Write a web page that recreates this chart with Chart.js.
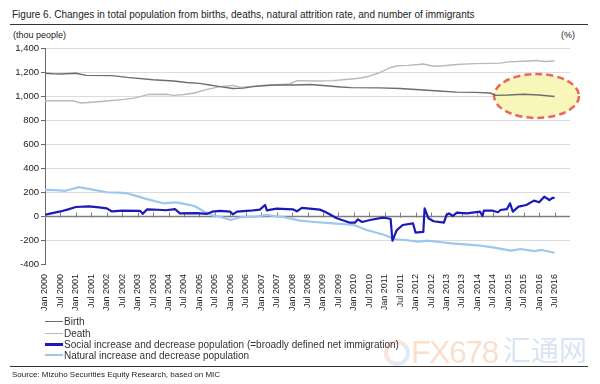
<!DOCTYPE html>
<html>
<head>
<meta charset="utf-8">
<script src="https://cdn.jsdelivr.net/npm/chart.js@4.4.1/dist/chart.umd.min.js"></script>
<style>
  html, body { margin:0; padding:0; background:#fff; }
  body { width:600px; height:384px; position:relative; overflow:hidden;
         font-family:'Liberation Sans', Arial, sans-serif; color:#222; }
  .abs { position:absolute; white-space:nowrap; }
  #chart { position:absolute; left:0; top:0; }
  .lg { position:absolute; left:45px; height:12px; font-size:10px; line-height:12px; white-space:nowrap; color:#333; }
  .lg i { display:inline-block; width:18px; vertical-align:middle; margin-right:1px; position:relative; top:-1px; }
  .wm { position:absolute; white-space:nowrap; opacity:0.5; line-height:1; }
</style>
</head>
<body>
<div class="abs" style="left:12px;top:9px;font-size:10px;">Figure 6. Changes in total population from births, deaths, natural attrition rate, and number of immigrants</div>
<div class="abs" style="left:10px;top:24px;width:578px;border-top:1px solid #333;"></div>
<div class="abs" style="left:13px;top:30px;font-size:9px;">(thou people)</div>
<div class="abs" style="left:561px;top:30px;font-size:9px;">(%)</div>
<canvas id="chart" width="600" height="384"></canvas>

<div class="wm" style="left:384px;top:340px;width:18px;height:18px;border:4px solid #f3c9b5;border-radius:50%;border-right-color:#c9d6ec;border-bottom-color:#c9d6ec;"></div>
<div class="wm" style="left:411px;top:336px;font-size:32px;letter-spacing:-1.5px;color:#f6c29a;">FX678</div>
<div class="wm" style="left:503px;top:335px;font-size:28px;color:#b3c8ea;font-family:'Noto Sans CJK SC',sans-serif;">汇通网</div>

<div class="lg" style="top:316px;"><i style="height:1.5px;background:#6e6e6e;"></i>Birth</div>
<div class="lg" style="top:328px;"><i style="height:1.5px;background:#b9b9b9;"></i>Death</div>
<div class="lg" style="top:339px;"><i style="height:3px;background:#1a1ab8;"></i>Social increase and decrease population (=broadly defined net immigration)</div>
<div class="lg" style="top:350px;"><i style="height:2px;background:#9dc7ec;"></i>Natural increase and decrease population</div>

<div class="abs" style="left:10px;top:366px;width:578px;border-top:1px solid #333;"></div>
<div class="abs" style="left:12px;top:370px;font-size:8px;">Source: Mizuho Securities Equity Research, based on MIC</div>

<script>
// ---- data (x = months since Jan 2000, y = thousand people) ----
const xTickLabels = ['Jan 2000','Jul 2000','Jan 2001','Jul 2001','Jan 2002','Jul 2002','Jan 2003','Jul 2003',
  'Jan 2004','Jul 2004','Jan 2005','Jul 2005','Jan 2006','Jul 2006','Jan 2007','Jul 2007','Jan 2008','Jul 2008',
  'Jan 2009','Jul 2009','Jan 2010','Jul 2010','Jan 2011','Jul 2011','Jan 2012','Jul 2012','Jan 2013','Jul 2013',
  'Jan 2014','Jul 2014','Jan 2015','Jul 2015','Jan 2016','Jul 2016'];
const yTickValues = [-400,-200,0,200,400,600,800,1000,1200,1400];

const birth = [[0,1190],[3,1185],[6,1183],[12,1190],[16,1172],[26,1170],[32,1155],[42,1135],[50,1125],[55,1112],
  [60,1105],[64,1092],[68,1078],[73,1063],[77,1066],[81,1078],[86,1088],[89,1092],[97,1092],[103,1096],[108,1088],
  [115,1075],[119,1070],[130,1068],[138,1063],[147,1050],[153,1042],[160,1032],[167,1030],[173,1025],[175,1005],
  [180,1008],[186,1015],[192,1008],[198,996]];

const death = [[0,960],[11,960],[14,942],[18,948],[24,958],[30,970],[34,980],[37,995],[40,1012],[47,1015],[50,1005],
  [54,1012],[58,1025],[63,1055],[68,1078],[73,1088],[76,1072],[80,1080],[83,1086],[89,1092],[95,1100],[98,1128],
  [105,1125],[112,1128],[118,1140],[122,1148],[126,1165],[130,1194],[134,1235],[137,1252],[141,1255],[145,1262],
  [147,1267],[151,1248],[155,1252],[160,1262],[167,1270],[173,1272],[177,1274],[180,1284],[186,1290],[191,1296],
  [194,1288],[198,1292]];

const social = [[0,10],[2,20],[6,38],[9,55],[12,75],[17,80],[21,72],[24,64],[26,38],[30,44],[37,42],[38,18],[39.6,55],
  [44,52],[47,48],[50.5,58],[52.4,22],[59,24],[63,18],[65,36],[68,42],[72,36],[73,14],[74.6,36],[79.6,44],[83.5,53],
  [85.5,92],[86.2,47],[90,61],[96.3,56],[97.9,39],[99.8,67],[106.8,53],[108.8,36],[113.4,-19],[118.5,-56],[120.4,-56],
  [121.6,-28],[123.2,-50],[126.3,-33],[131.3,-14],[133,-19],[134.3,-25],[135,-206],[136.7,-117],[139,-75],[143,-61],
  [144,-139],[147,-133],[147.5,64],[149,-19],[151,-44],[155,-55],[156,8],[157,22],[158.5,0],[160,28],[164,22],
  [169,36],[170,0],[170.5,44],[174,44],[176,31],[177,50],[179.5,58],[180.7,106],[181.8,36],[184,78],[187,92],
  [190,128],[192,114],[194,161],[196,133],[197.4,153],[198,147]];

const natural = [[0,217],[4,215],[8,210],[13,240],[18,222],[24,198],[29,195],[32,189],[35,170],[40,139],[46,106],
  [51,114],[55,97],[58,83],[62,36],[65.5,3],[68,-5],[72,-33],[76,-10],[82,-5],[86,10],[89,0],[93,-10],[99,-39],
  [106,-52],[112,-61],[120,-75],[125,-117],[132,-158],[136,-194],[140,-200],[145,-214],[149,-206],[158,-228],
  [168,-244],[174,-261],[181,-289],[185,-275],[190,-292],[193,-283],[198,-306]];

// highlighted region (dashed ellipse): centre [month, value], radii [months, value]
const highlightCenter = [191, 1000];
const highlightRadius = [16.5, 183];

const toPts = arr => arr.map(([x, y]) => ({x, y}));

const overlay = {
  id: 'overlay',
  beforeDatasetsDraw(chart) {
    const {ctx, scales:{x, y}} = chart;
    const cx = x.getPixelForValue(highlightCenter[0]);
    const cy = y.getPixelForValue(highlightCenter[1]);
    const rx = x.getPixelForValue(highlightCenter[0] + highlightRadius[0]) - cx;
    const ry = cy - y.getPixelForValue(highlightCenter[1] + highlightRadius[1]);
    ctx.save();
    ctx.beginPath();
    ctx.ellipse(cx, cy, rx, ry, 0, 0, Math.PI * 2);
    ctx.fillStyle = '#f8f6b8';
    ctx.fill();
    ctx.setLineDash([7, 4]);
    ctx.lineWidth = 2.5;
    ctx.strokeStyle = '#e8675c';
    ctx.stroke();
    ctx.restore();
    const y0 = Math.round(y.getPixelForValue(0)) + 0.5;
    ctx.save();
    ctx.strokeStyle = '#7f7f7f';
    ctx.lineWidth = 1.5;
    ctx.beginPath();
    ctx.moveTo(chart.chartArea.left, y0);
    ctx.lineTo(chart.chartArea.right, y0);
    ctx.stroke();
    ctx.lineWidth = 1;
    ctx.beginPath();
    xTickLabels.forEach((_, i) => {
      const px = Math.round(x.getPixelForValue(i * 6)) + 0.5;
      ctx.moveTo(px, y0 - 4);
      ctx.lineTo(px, y0 + 1);
    });
    ctx.stroke();
    ctx.restore();
  }
};

new Chart(document.getElementById('chart'), {
  type: 'line',
  data: {
    datasets: [
      { label: 'Social increase and decrease population (=broadly defined net immigration)', data: toPts(social),
        borderColor: '#1a1ab8', borderWidth: 2.2, order: 0 },
      { label: 'Natural increase and decrease population', data: toPts(natural),
        borderColor: '#9dc7ec', borderWidth: 2.2, order: 1 },
      { label: 'Birth', data: toPts(birth), borderColor: '#6e6e6e', borderWidth: 1.4, order: 2 },
      { label: 'Death', data: toPts(death), borderColor: '#b9b9b9', borderWidth: 1.4, order: 3 }
    ]
  },
  options: {
    responsive: false,
    devicePixelRatio: 1,
    animation: false,
    events: [],
    elements: { point: { radius: 0 }, line: { tension: 0, fill: false, borderJoinStyle: 'round' } },
    layout: { padding: { top: 48, left: 0, right: 30, bottom: 70 } },
    plugins: { legend: { display: false }, tooltip: { enabled: false }, title: { display: false } },
    scales: {
      x: {
        type: 'linear', min: 0, max: 204,
        afterFit: s => { s.height = 50; },
        afterBuildTicks: s => { s.ticks = xTickLabels.map((_, i) => ({ value: i * 6 })); },
        border: { display: false },
        grid: { display: false },
        ticks: {
          autoSkip: false, maxRotation: 90, minRotation: 90, padding: 2,
          color: '#222', font: { size: 9, family: "'Liberation Sans', Arial, sans-serif" },
          callback: v => xTickLabels[Math.round(v / 6)] ?? ''
        }
      },
      y: {
        min: -400, max: 1400,
        afterFit: s => { s.width = 45; },
        afterBuildTicks: s => { s.ticks = yTickValues.map(v => ({ value: v })); },
        border: { display: true, color: '#6a6a6a', width: 1 },
        grid: {
          color: c => (c.tick && (c.tick.value === 0 || c.tick.value === -400)) ? 'rgba(0,0,0,0)' : '#dcdcdc',
          tickColor: '#6a6a6a', tickLength: 4, drawTicks: true
        },
        ticks: {
          padding: 2, color: '#222', font: { size: 9.5, family: "'Liberation Sans', Arial, sans-serif" },
          callback: v => v.toLocaleString('en-US')
        }
      }
    }
  },
  plugins: [overlay]
});
</script>
</body>
</html>
